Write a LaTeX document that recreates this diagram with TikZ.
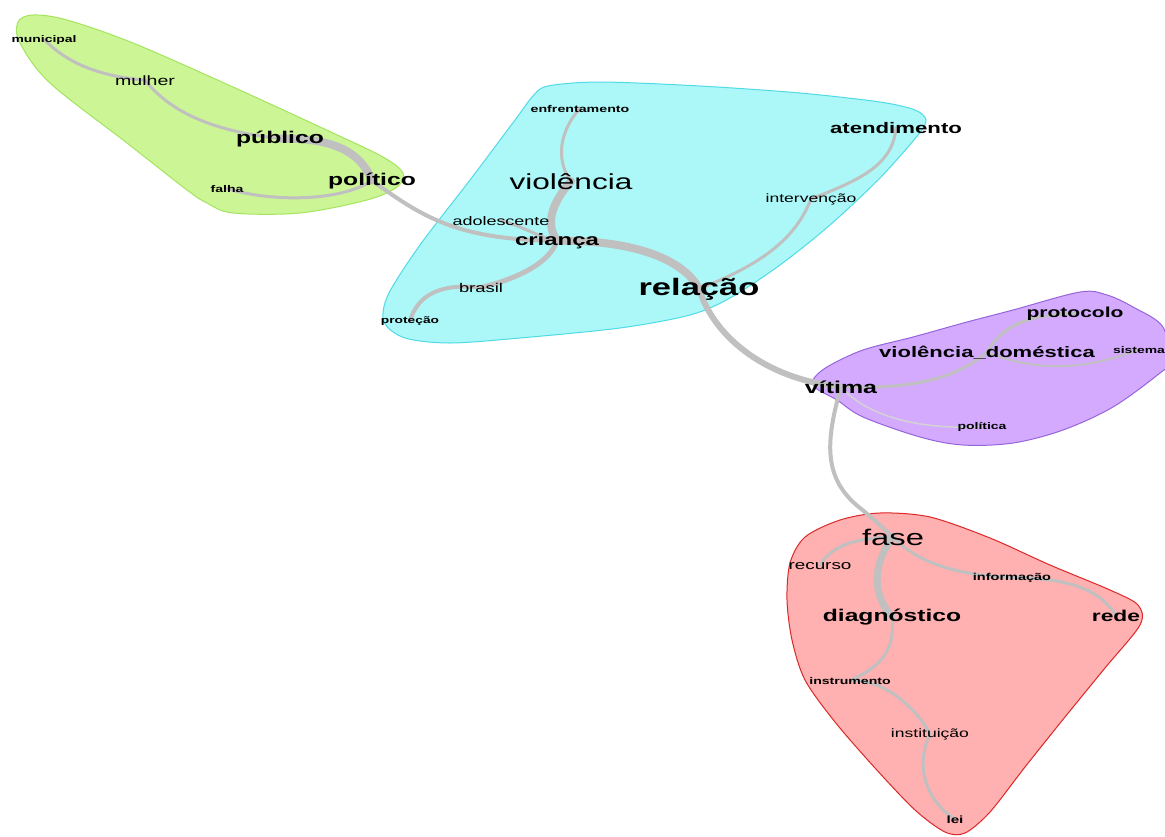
\documentclass[tikz,border=0pt]{standalone}
\usepackage{fontspec}
\setmainfont{Liberation Sans}
\pgfdeclarelayer{bg}
\pgfsetlayers{bg,main}
\definecolor{gfill}{RGB}{204,245,150}
\definecolor{gline}{RGB}{165,228,95}
\definecolor{cfill}{RGB}{172,248,248}
\definecolor{cline}{RGB}{80,218,230}
\definecolor{pfill}{RGB}{212,170,255}
\definecolor{pline}{RGB}{150,100,220}
\definecolor{rfill}{RGB}{255,176,176}
\definecolor{rline}{RGB}{220,40,40}
\definecolor{egray}{RGB}{192,192,192}
\newcommand\wlbl[2]{\scalebox{1.45}[1]{\fontsize{#1}{#1}\selectfont #2}}
\newcommand\blbl[2]{\scalebox{1.45}[1]{\fontsize{#1}{#1}\selectfont\bfseries #2}}
\begin{document}
\begin{tikzpicture}[x=1pt,y=-1pt,
  lbl/.style={inner sep=0pt,anchor=base,text=black},
  lnk/.style={draw=egray,line cap=round,line width=#1},
  lnk/.default=3pt,
  blob/.style={line width=1pt}]
\useasboundingbox (0,0) rectangle (1165,836);
% labels
\node[lbl] (mun) at (44,42) {\blbl{9.6}{municipal}};
\node[lbl] (mul) at (145,85) {\wlbl{13.5}{mulher}};
\node[lbl] (pub) at (280,143) {\blbl{17}{público}};
\node[lbl] (pol) at (372,185) {\blbl{17}{político}};
\node[lbl] (fal) at (227,192) {\blbl{9.7}{falha}};
\node[lbl] (enf) at (580,112) {\blbl{9.8}{enfrentamento}};
\node[lbl] (vio) at (571,189) {\wlbl{21.8}{violência}};
\node[lbl] (ate) at (896,133) {\blbl{15.3}{atendimento}};
\node[lbl] (int) at (811,202) {\wlbl{12.1}{intervenção}};
\node[lbl] (ado) at (501,225) {\wlbl{12.4}{adolescente}};
\node[lbl] (cri) at (557,245) {\blbl{16.5}{criança}};
\node[lbl] (bra) at (481,292) {\wlbl{12.7}{brasil}};
\node[lbl] (pro) at (410,323) {\blbl{9.5}{proteção}};
\node[lbl] (rel) at (699,295) {\blbl{23.8}{relação}};
\node[lbl] (ptc) at (1075,317) {\blbl{14.5}{protocolo}};
\node[lbl] (vd) at (987,357) {\blbl{15.2}{violência\_doméstica}};
\node[lbl] (sis) at (1139,353) {\blbl{9.6}{sistema}};
\node[lbl] (vit) at (841,393) {\blbl{17.2}{vítima}};
\node[lbl] (plt) at (982,429) {\blbl{9.65}{política}};
\node[lbl] (fas) at (893,545) {\wlbl{22.6}{fase}};
\node[lbl] (rec) at (820,569) {\wlbl{13}{recurso}};
\node[lbl] (inf) at (1012,580) {\blbl{10}{informação}};
\node[lbl] (dia) at (892,621) {\blbl{17}{diagnóstico}};
\node[lbl] (red) at (1116,621) {\blbl{15.7}{rede}};
\node[lbl] (ins) at (850,684) {\blbl{9.7}{instrumento}};
\node[lbl] (isu) at (930,737) {\wlbl{12.1}{instituição}};
\node[lbl] (lei) at (955,823) {\blbl{10.5}{lei}};
\begin{pgfonlayer}{bg}
\fill[white] (0,0) rectangle (1165,836);
% clusters
\draw[blob,draw=gline,fill=gfill] plot[smooth cycle,tension=0.55] coordinates {
 (33,15) (67,20) (133,43) (233,87) (333,133) (383,157) (403,173) (397,187)
 (367,200) (300,213) (233,213) (207,203) (187,190) (127,143) (50,83) (20,43) (18,22)};
\draw[blob,draw=cline,fill=cfill] plot[smooth cycle,tension=0.5] coordinates {
 (548,86) (600,82) (700,86) (800,93) (880,102) (915,110) (926,120) (918,135)
 (880,178) (830,225) (780,265) (730,298) (690,315) (620,328) (520,338) (450,343)
 (405,338) (384,322) (388,295) (420,245) (470,180) (515,120) (533,96)};
\draw[blob,draw=pline,fill=pfill] plot[smooth cycle,tension=0.55] coordinates {
 (813,380) (827,367) (863,350) (913,337) (967,322) (1013,310) (1080,292) (1107,295)
 (1133,307) (1163,327) (1168,363) (1160,373) (1113,407) (1063,430) (1013,443)
 (963,445) (920,437) (863,417) (837,400) (817,389)};
\draw[blob,draw=rline,fill=rfill] plot[smooth cycle,tension=0.5] coordinates {
 (880,513) (930,517) (990,538) (1050,565) (1110,590) (1138,605) (1140,625)
 (1105,668) (1065,717) (1025,767) (990,812) (965,833) (945,832) (915,810)
 (875,768) (835,722) (805,680) (792,640) (787,600) (790,563) (805,537) (840,520)};
% edges
\draw[lnk=3pt] (mun.center) .. controls (60,55) and (85,75) .. (mul.center);
\draw[lnk=3pt] (mul.center) .. controls (165,105) and (200,130) .. (pub.center);
\draw[lnk=8pt] (pub.center) .. controls (330,138) and (360,150) .. (pol.center);
\draw[lnk=3pt] (fal.center) .. controls (270,202) and (340,202) .. (pol.center);
\draw[lnk=4pt] (pol.center) .. controls (420,215) and (455,240) .. (cri.center);
\draw[lnk=3pt] (enf.center) .. controls (560,130) and (555,160) .. (vio.center);
\draw[lnk=8pt] (vio.center) .. controls (550,205) and (546,225) .. (cri.center);
\draw[lnk=3pt] (ado.center) .. controls (520,225) and (540,238) .. (cri.center);
\draw[lnk=5pt] (cri.center) .. controls (550,262) and (520,278) .. (bra.center);
\draw[lnk=4pt] (bra.center) .. controls (440,283) and (418,295) .. (pro.center);
\draw[lnk=8pt] (cri.center) .. controls (640,240) and (685,262) .. (rel.center);
\draw[lnk=6pt] (rel.center) .. controls (715,340) and (770,380) .. (vit.center);
\draw[lnk=3pt] (rel.center) .. controls (760,265) and (795,240) .. (int.center);
\draw[lnk=3pt] (int.center) .. controls (860,180) and (893,165) .. (ate.center);
\draw[lnk=3pt] (vit.center) .. controls (920,390) and (960,375) .. (vd.center);
\draw[lnk=3pt] (vd.center) .. controls (1000,330) and (1020,315) .. (ptc.center);
\draw[lnk=2pt] (vd.center) .. controls (1040,374) and (1090,368) .. (sis.center);
\draw[lnk=1.5pt,draw=egray!70] (vit.center) .. controls (870,420) and (930,430) .. (plt.center);
\draw[lnk=4pt] (vit.center) .. controls (826,440) and (822,478) .. (860,508)
   .. controls (875,520) and (885,530) .. (fas.center);
\draw[lnk=3pt] (fas.center) .. controls (850,538) and (830,548) .. (rec.center);
\draw[lnk=7pt] (fas.center) .. controls (872,565) and (872,595) .. (dia.center);
\draw[lnk=3pt] (fas.center) .. controls (915,560) and (950,575) .. (inf.center);
\draw[lnk=3pt] (inf.center) .. controls (1070,578) and (1100,590) .. (red.center);
\draw[lnk=3pt] (dia.center) .. controls (895,645) and (886,665) .. (ins.center);
\draw[lnk=3pt] (ins.center) .. controls (880,678) and (915,705) .. (isu.center);
\draw[lnk=3pt] (isu.center) .. controls (915,765) and (925,800) .. (lei.center);
\end{pgfonlayer}
\end{tikzpicture}
\end{document}
